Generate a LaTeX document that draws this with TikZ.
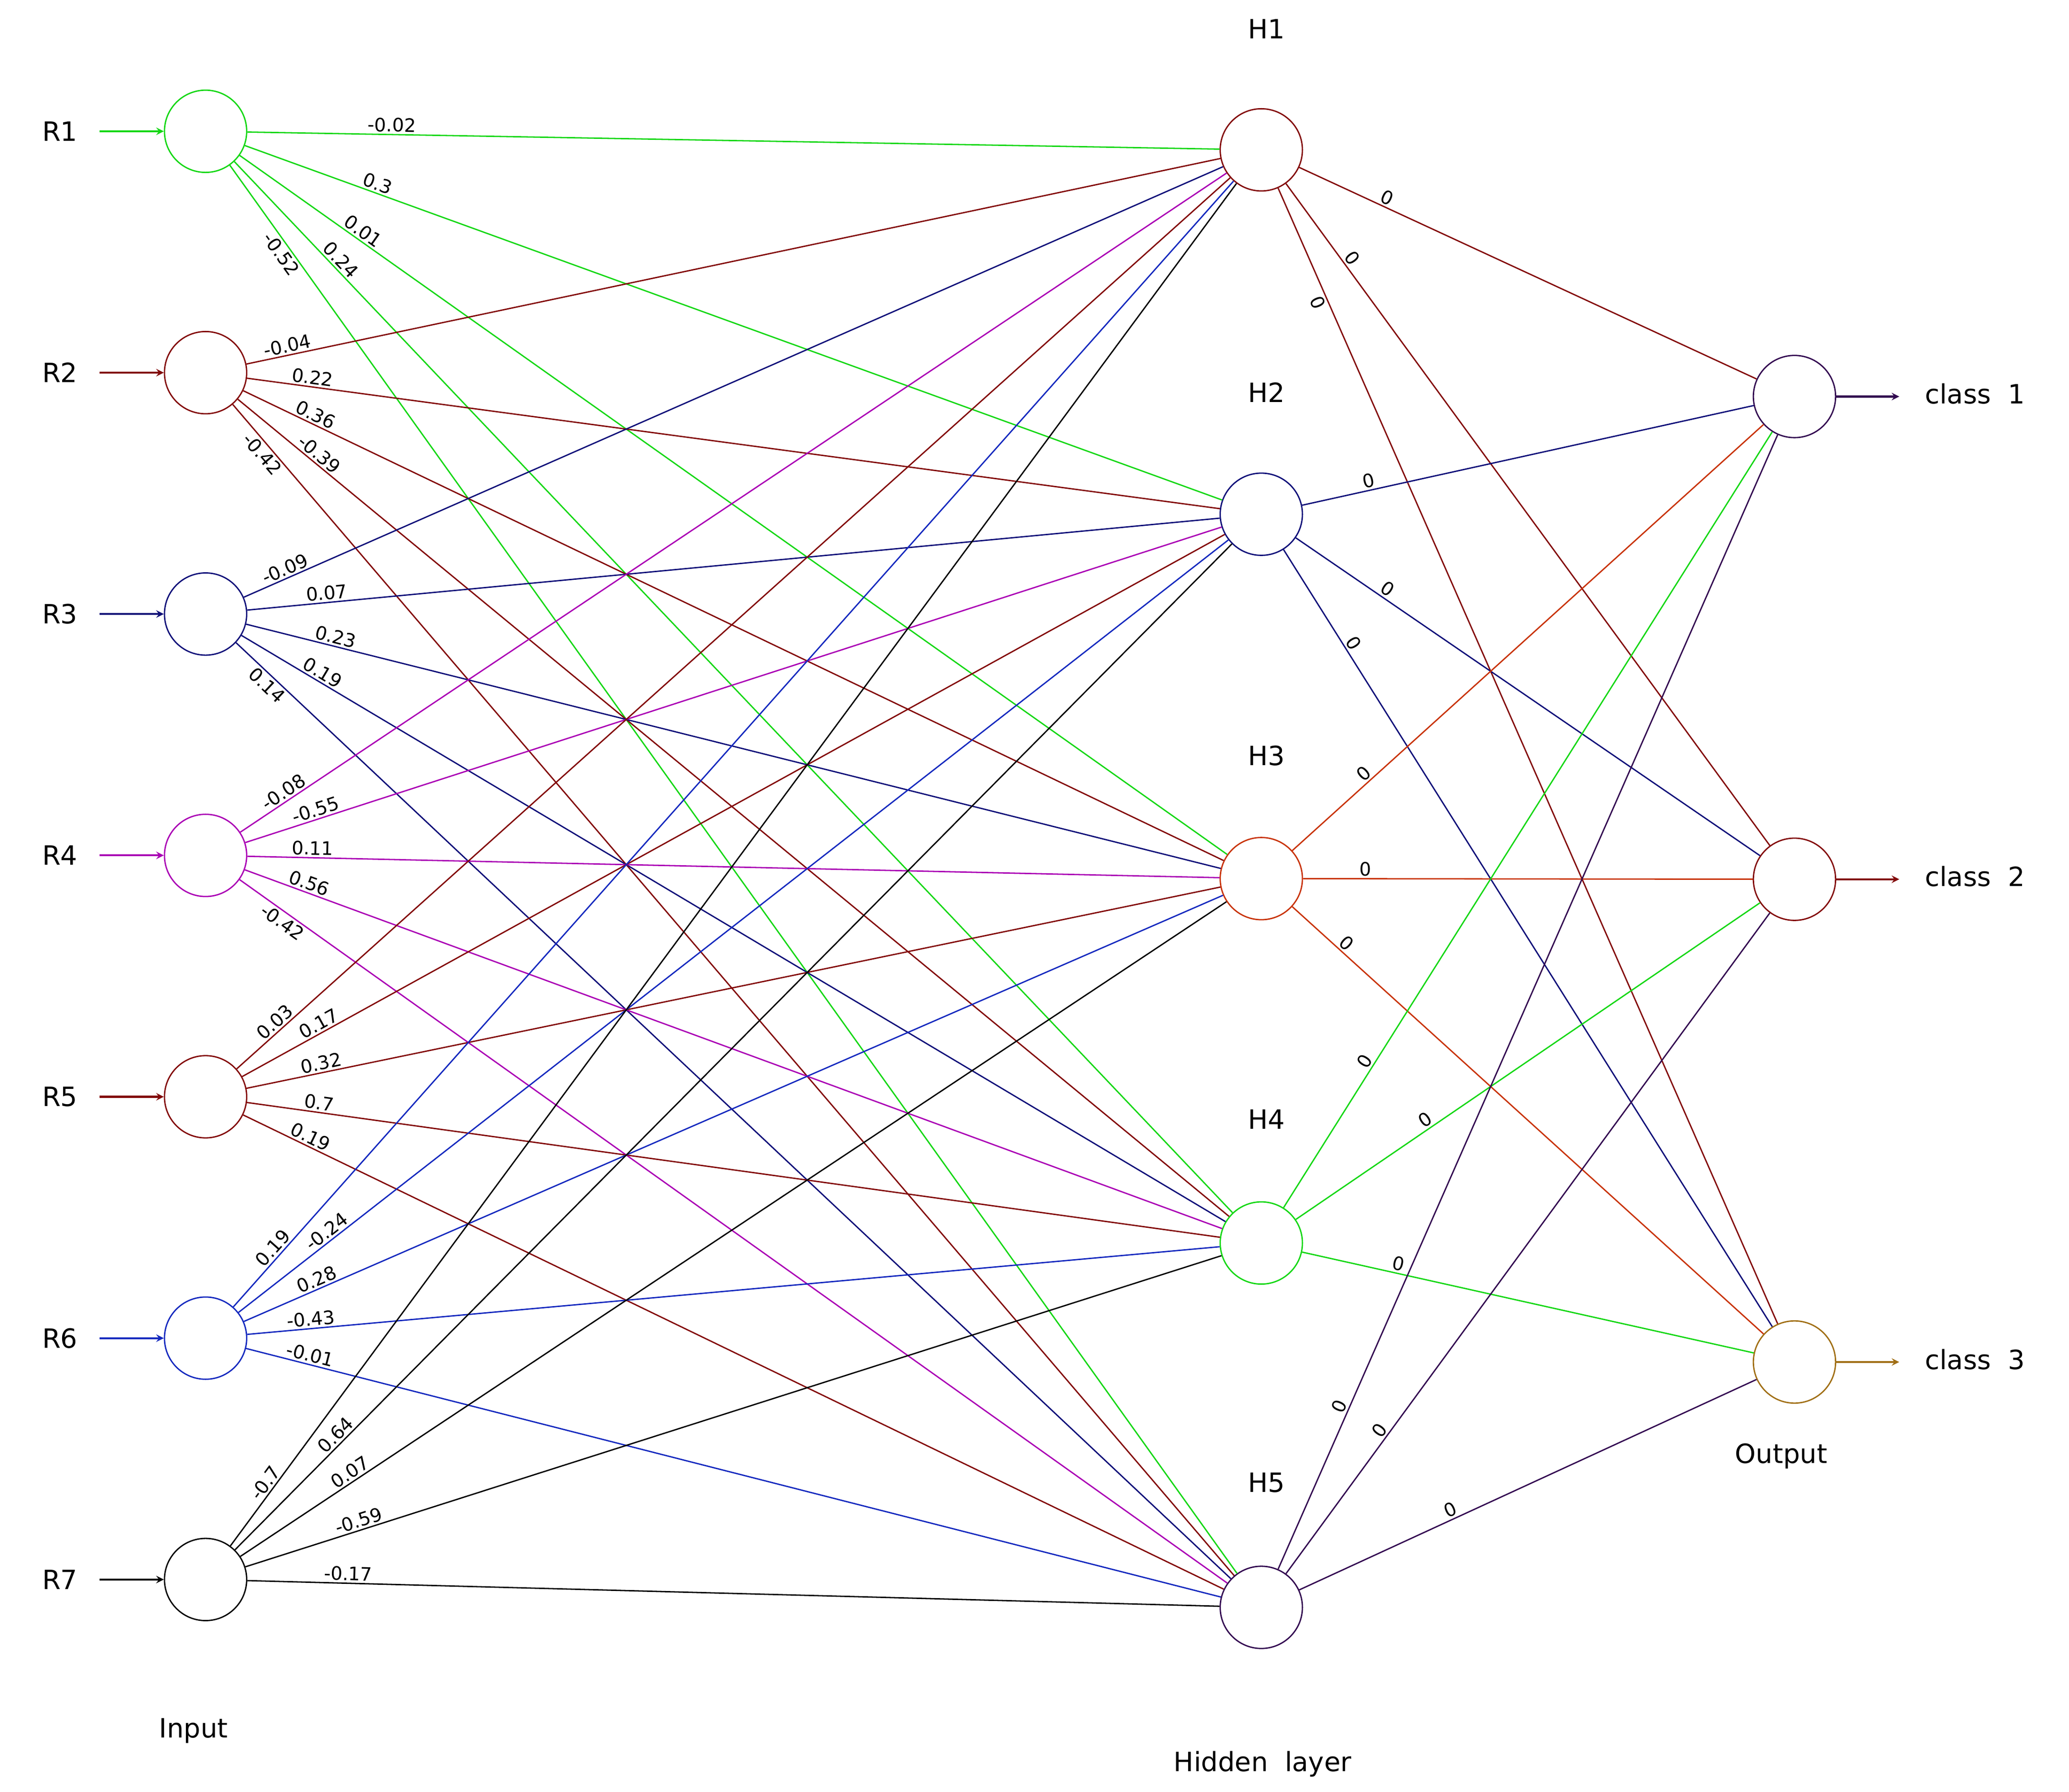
\documentclass[tikz,border=0pt]{standalone}
\usepackage{fontspec}
\setmainfont{DejaVu Sans}
\definecolor{cgreen}{RGB}{20,215,20}
\definecolor{cbrown}{RGB}{130,10,10}
\definecolor{cnavy}{RGB}{15,15,120}
\definecolor{cmag}{RGB}{170,0,180}
\definecolor{cblue}{RGB}{20,40,190}
\definecolor{corange}{RGB}{200,50,10}
\definecolor{cpurple}{RGB}{50,10,80}
\definecolor{colive}{RGB}{160,110,20}
\tikzset{
  unit/.style={draw,circle,minimum size=62pt,inner sep=0pt,line width=1pt},
  lab/.style={font=\fontsize{20}{22}\selectfont},
  wt/.style={font=\fontsize{14}{15}\selectfont,sloped,inner sep=1.5pt},
  link/.style={line width=1pt}
}
\begin{document}
\begin{tikzpicture}[x=1pt,y=-1pt,>=stealth]
\useasboundingbox (0,0) rectangle (1560,1351);
% layers
\foreach \i/\c in {1/cgreen,2/cbrown,3/cnavy,4/cmag,5/cbrown,6/cblue,7/black} {
  \node[unit,draw=\c] (R\i) at (155,{99+182*(\i-1)}) {};
  \node[lab,anchor=east] (r\i) at (62,{99+182*(\i-1)}) {R\i};
  \coordinate (a\i) at (75,{99+182*(\i-1)});
  \draw[->,\c,line width=1.5pt] (a\i) -- (R\i);
}
\foreach \j/\c in {1/cbrown,2/cnavy,3/corange,4/cgreen,5/cpurple} {
  \node[unit,draw=\c] (H\j) at (951,{113+274.75*(\j-1)}) {};
  \node[lab] (h\j) at (955,{22+274*(\j-1)}) {H\j};
}
\foreach \k/\c in {1/cpurple,2/cbrown,3/colive} {
  \node[unit,draw=\c] (O\k) at (1353,{299+364*(\k-1)}) {};
  \coordinate (b\k) at (1432,{299+364*(\k-1)});
  \draw[->,\c,line width=1.5pt] (O\k) -- (b\k);
  \node[lab,anchor=west] (c\k) at (1448,{297+364*(\k-1)}) {class\ \ \k};
}
\node[lab] (inp) at (146,1305) {Input};
\node[lab] (hid) at (952,1330) {Hidden\ \ layer};
\node[lab] (out) at (1343,1098) {Output};
% weights input -> hidden (value/distance/side)
\foreach \i/\c/\ws in {
    1/cgreen/{-0.02/140/above,0.3/135/above,0.01/140/above,0.24/140/above,-0.52/108/below},
    2/cbrown/{-0.04/64/above,0.22/80/above,0.36/88/above,-0.39/105/above,-0.42/74/below},
    3/cnavy/{-0.09/68/above,0.07/92/above,0.23/99/above,0.19/98/above,0.14/70/below},
    4/cmag/{-0.08/75/above,-0.55/89/above,0.11/80/above,0.56/80/above,-0.42/76/below},
    5/cbrown/{0.03/76/above,0.17/101/above,0.32/90/above,0.7/85/above,0.19/84/above},
    6/cblue/{0.19/84/above,-0.24/121/above,0.28/94/above,-0.43/80/above,-0.01/79/above},
    7/black/{-0.7/85/above,0.64/146/above,0.07/135/above,-0.59/123/above,-0.17/107/above}} {
  \foreach \w/\d/\s [count=\j] in \ws {
    \pgfmathsetmacro\dy{113+274.75*(\j-1)-99-182*(\i-1)}
    \pgfmathsetmacro\p{(\d-31)/(veclen(796,\dy)-62)}
    \draw[link,\c] (R\i) -- node[wt,\s,pos=\p,text=black] {\w} (H\j);
  }
}
% hidden -> output (distance/side)
\foreach \j/\c/\ds in {1/cbrown/{101/above,106/above,122/below},
    2/cnavy/{84/above,110/above,119/above},
    3/corange/{110/above,78/above,80/above},
    4/cgreen/{157/above,154/above,104/above},
    5/cpurple/{162/above,160/above,160/above}} {
  \foreach \d/\s [count=\k] in \ds {
    \pgfmathsetmacro\dy{299+364*(\k-1)-113-274.75*(\j-1)}
    \pgfmathsetmacro\p{(\d-31)/(veclen(402,\dy)-62)}
    \draw[link,\c] (H\j) -- node[wt,\s,pos=\p,text=black] {0} (O\k);
  }
}
\end{tikzpicture}
\end{document}
